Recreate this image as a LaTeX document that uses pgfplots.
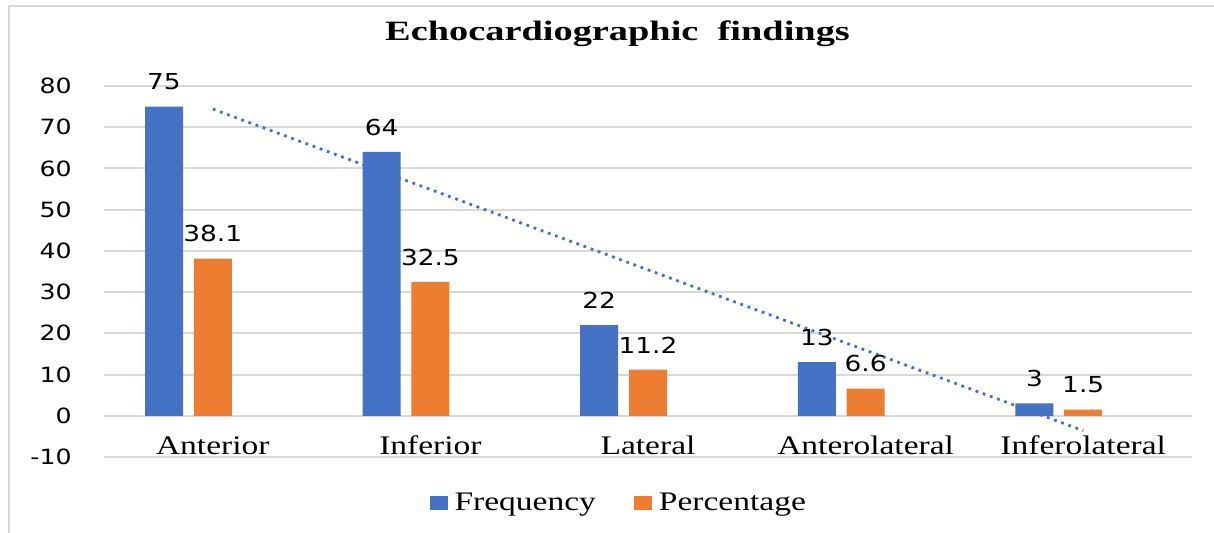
\documentclass[border=0pt]{standalone}
\usepackage{fontspec}
\setmainfont{Liberation Serif}[FakeStretch=1.25]
\newfontfamily\numfont{DejaVu Sans}[FakeStretch=1.2]
\newfontfamily\titlefont{Liberation Serif}[FakeStretch=1.37]
\usepackage{pgfplots}
\pgfplotsset{compat=1.18}
\definecolor{xblue}{HTML}{4472C4}
\definecolor{xorange}{HTML}{ED7D31}
\definecolor{xgrid}{HTML}{D9D9D9}
\begin{document}
\begin{tikzpicture}
\useasboundingbox (0,0) rectangle (607pt,-266.5pt);
\draw[xgrid, line width=1pt] (4.5pt,-266.5pt) -- (4.5pt,-3pt) -- (607pt,-3pt);
\begin{axis}[
  at={(52pt,-43pt)}, anchor=north west,
  scale only axis, width=544pt, height=185.5pt,
  xmin=0.5, xmax=5.5, ymin=-10, ymax=80,
  axis line style={draw=none},
  xtick pos=bottom, ytick pos=left,
  ytick={-10,0,10,20,30,40,50,60,70,80},
  yticklabels={-10,0,10,20,30,40,50,60,70,80},
  xtick={1,2,3,4,5},
  xticklabels={Anterior,Inferior,Lateral,Anterolateral,Inferolateral},
  ymajorgrids, major grid style={xgrid, line width=1pt},
  major tick length=0pt, tick style={draw=none},
  yticklabel style={font=\numfont\fontsize{10.5}{12}\selectfont, anchor=east, inner sep=0pt, xshift=-16pt},
  xticklabel style={font=\fontsize{13.4}{15}\selectfont, anchor=base, inner sep=0pt, yshift=1pt},
  /pgf/number format/assume math mode=true,
  title={\titlefont\bfseries Echocardiographic\ \ findings},
  title style={at={(0.472,1)}, anchor=base, inner sep=0pt, yshift=16.5pt, font=\fontsize{14}{16}\selectfont},
  legend style={at={(0.474,-0.124)}, anchor=center, draw=none, fill=none,
    legend columns=2, font=\fontsize{13.4}{15}\selectfont,
    /tikz/every even column/.append style={column sep=17pt},
    /tikz/every odd column/.append style={column sep=1.5pt}},
  legend image code/.code={\fill[#1, draw=none] (0pt,-3.3pt) rectangle (9pt,3.3pt);},
  clip=false,
]
\addplot[ybar, bar width=19pt, bar shift=-24.4pt, fill=xblue, draw=none,
  nodes near coords,
  nodes near coords style={font=\numfont\fontsize{11}{13}\selectfont, text=black, anchor=south, inner sep=0pt, yshift=8pt, xshift=-24.4pt}]
  coordinates {(1,75) (2,64) (3,22) (4,13) (5,3)};
\addlegendentry{Frequency}
\addplot[ybar, bar width=19pt, bar shift=0pt, fill=xorange, draw=none,
  nodes near coords,
  nodes near coords style={font=\numfont\fontsize{11}{13}\selectfont, text=black, anchor=south, inner sep=0pt, yshift=8pt}]
  coordinates {(1,38.1) (2,32.5) (3,11.2) (4,6.6) (5,1.5)};
\addlegendentry{Percentage}
\addplot[xblue, line width=1.4pt, dash pattern=on 1.4pt off 2.4pt]
  coordinates {(1,74.4) (5,-3.6)};
\end{axis}
\end{tikzpicture}
\end{document}
